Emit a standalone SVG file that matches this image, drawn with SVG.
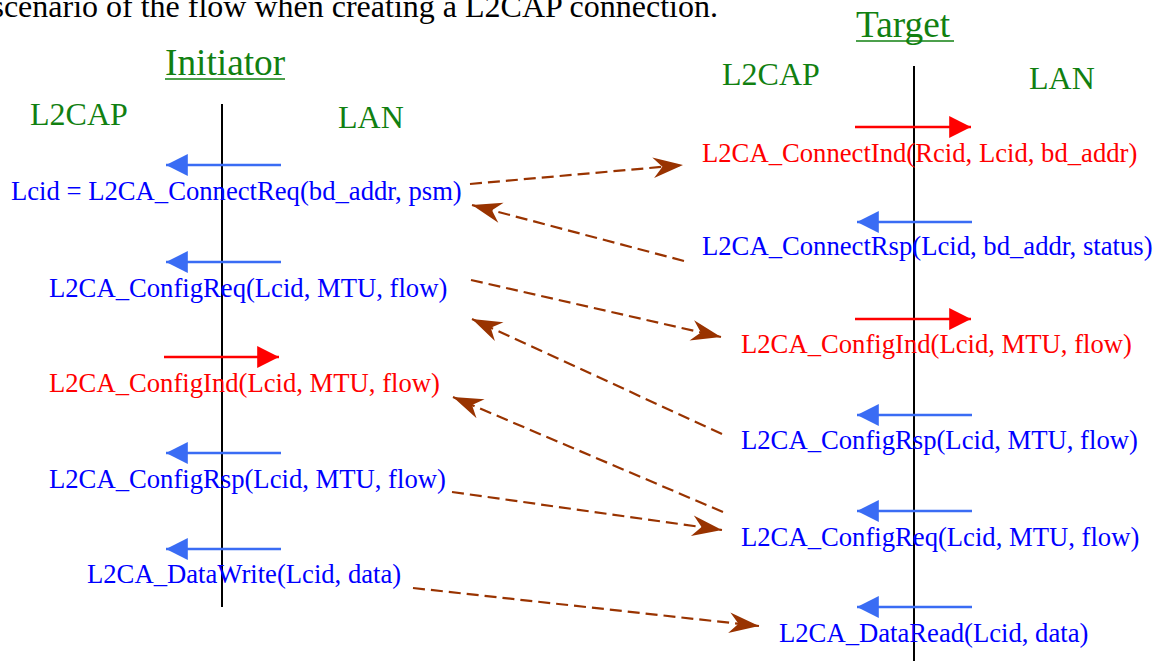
<svg xmlns="http://www.w3.org/2000/svg" width="1157" height="661" viewBox="0 0 1157 661">
  <style>
    text { font-family: "Liberation Serif", "Times New Roman", serif; }
    .caption { font-size: 32px; fill: #000000; }
    .party { font-size: 37.3px; fill: #118011; }
    .layer { font-size: 32px; fill: #118011; }
    .msg { font-size: 26.67px; }
    .blue { fill: #0000ff; }
    .red { fill: #ff0000; }
    .life { stroke: #000000; stroke-width: 2; }
    .uline { stroke: #118011; stroke-width: 1.6; }
    .down { stroke: #3a6cf4; stroke-width: 2.5; marker-end: url(#headBlue); }
    .up { stroke: #ff0000; stroke-width: 2.5; marker-end: url(#headRed); }
    .flow { stroke: #993300; stroke-width: 2.2; stroke-dasharray: 12 6; fill: none; marker-end: url(#headBrown); }
  </style>
  <defs>
    <marker id="headBlue" markerUnits="userSpaceOnUse" markerWidth="24" markerHeight="24" refX="0" refY="0" viewBox="-21 -11 22 22" orient="auto" overflow="visible">
      <path d="M0,0 L-20,-10 L-20,10 Z" fill="#3a6cf4"/>
    </marker>
    <marker id="headRed" markerUnits="userSpaceOnUse" markerWidth="24" markerHeight="24" refX="0" refY="0" viewBox="-21 -11 22 22" orient="auto" overflow="visible">
      <path d="M0,0 L-20,-10 L-20,10 Z" fill="#ff0000"/>
    </marker>
    <marker id="headBrown" markerUnits="userSpaceOnUse" markerWidth="32" markerHeight="24" refX="0" refY="0" viewBox="-30 -11 31 22" orient="auto" overflow="visible">
      <path d="M0,0 L-29,-10 L-20,0 L-29,10 Z" fill="#993300"/>
    </marker>
  </defs>

  <rect x="0" y="0" width="1157" height="661" fill="#ffffff"/>

  <!-- Running caption; it starts just past the left edge of the page -->
  <text class="caption" x="718" y="17" text-anchor="end">scenario of the flow when creating a L2CAP connection.</text>

  <!-- Initiator side -->
  <g id="initiator">
    <text class="party" x="165" y="75">Initiator</text>
    <line class="uline" x1="165" y1="79" x2="285" y2="79"/>
    <text class="layer" x="30" y="125">L2CAP</text>
    <text class="layer" x="338" y="128">LAN</text>
    <line class="life" x1="222" y1="104" x2="222" y2="607"/>
  </g>

  <g id="i-connect-req">
    <line class="down" x1="281" y1="165" x2="166" y2="165"/>
    <text class="msg blue" x="11" y="200">Lcid = L2CA_ConnectReq(bd_addr, psm)</text>
  </g>
  <g id="i-config-req">
    <line class="down" x1="281" y1="262" x2="166" y2="262"/>
    <text class="msg blue" x="49" y="297">L2CA_ConfigReq(Lcid, MTU, flow)</text>
  </g>
  <g id="i-config-ind">
    <line class="up" x1="164" y1="357" x2="279" y2="357"/>
    <text class="msg red" x="49" y="392">L2CA_ConfigInd(Lcid, MTU, flow)</text>
  </g>
  <g id="i-config-rsp">
    <line class="down" x1="281" y1="453" x2="166" y2="453"/>
    <text class="msg blue" x="49" y="488">L2CA_ConfigRsp(Lcid, MTU, flow)</text>
  </g>
  <g id="i-data-write">
    <line class="down" x1="281" y1="549" x2="166" y2="549"/>
    <text class="msg blue" x="87" y="583">L2CA_DataWrite(Lcid, data)</text>
  </g>

  <!-- Target side -->
  <g id="target">
    <text class="party" x="856" y="37">Target</text>
    <line class="uline" x1="856" y1="41" x2="954" y2="41"/>
    <text class="layer" x="722" y="85">L2CAP</text>
    <text class="layer" x="1029" y="89">LAN</text>
    <line class="life" x1="914" y1="66" x2="914" y2="661"/>
  </g>

  <g id="t-connect-ind">
    <line class="up" x1="855" y1="127" x2="971" y2="127"/>
    <text class="msg red" x="702" y="162">L2CA_ConnectInd(Rcid, Lcid, bd_addr)</text>
  </g>
  <g id="t-connect-rsp">
    <line class="down" x1="972" y1="222" x2="857" y2="222"/>
    <text class="msg blue" x="702" y="255">L2CA_ConnectRsp(Lcid, bd_addr, status)</text>
  </g>
  <g id="t-config-ind">
    <line class="up" x1="855" y1="319" x2="971" y2="319"/>
    <text class="msg red" x="741" y="353">L2CA_ConfigInd(Lcid, MTU, flow)</text>
  </g>
  <g id="t-config-rsp">
    <line class="down" x1="972" y1="415" x2="857" y2="415"/>
    <text class="msg blue" x="741" y="449">L2CA_ConfigRsp(Lcid, MTU, flow)</text>
  </g>
  <g id="t-config-req">
    <line class="down" x1="972" y1="511" x2="857" y2="511"/>
    <text class="msg blue" x="741" y="546">L2CA_ConfigReq(Lcid, MTU, flow)</text>
  </g>
  <g id="t-data-read">
    <line class="down" x1="972" y1="607" x2="857" y2="607"/>
    <text class="msg blue" x="779" y="642">L2CA_DataRead(Lcid, data)</text>
  </g>

  <!-- Dashed message flows between the two sides -->
  <g id="connectors">
    <line class="flow" x1="470" y1="184" x2="683" y2="165"/>
    <line class="flow" x1="684" y1="261" x2="472" y2="205"/>
    <line class="flow" x1="471" y1="280" x2="721" y2="337"/>
    <line class="flow" x1="722" y1="434" x2="472" y2="319"/>
    <line class="flow" x1="723" y1="512" x2="453" y2="397"/>
    <line class="flow" x1="452" y1="492" x2="722" y2="530"/>
    <line class="flow" x1="413" y1="588" x2="759" y2="626"/>
  </g>
</svg>
